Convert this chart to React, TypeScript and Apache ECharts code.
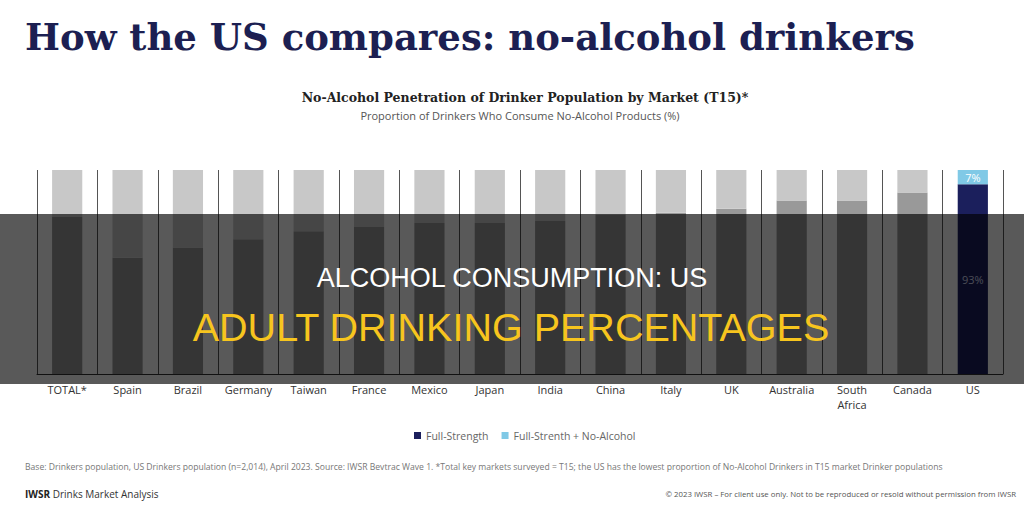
import React, { useEffect, useRef } from "react";
import * as echarts from "echarts";

// Markets surveyed, ordered by full-strength-only share
const categories = [
  "TOTAL*", "Spain", "Brazil", "Germany", "Taiwan", "France", "Mexico", "Japan",
  "India", "China", "Italy", "UK", "Australia", "South\nAfrica", "Canada", "US",
];
// Share of drinkers consuming full-strength only (%)
const fullStrength = [77, 57, 62, 66, 70, 72, 74, 74, 75, 78, 79, 81, 85, 85, 89, 93];
// Share of drinkers consuming full-strength plus no-alcohol products (%)
const noAlcohol = [23, 43, 38, 34, 30, 28, 26, 26, 25, 22, 21, 19, 15, 15, 11, 7];
const seriesNames = ["Full-Strength", "Full-Strenth + No-Alcohol"];
const highlighted = "US";

const NAVY = "#1b1f5c";
const LIGHT_BLUE = "#80c9e6";
const GREY_FULL = "#999999";
const GREY_NOALC = "#c8c8c8";

export default function App() {
  const ref = useRef<HTMLDivElement>(null);

  useEffect(() => {
    document.body.style.margin = "0";
    if (!ref.current) return;
    const chart = echarts.init(ref.current, undefined, { renderer: "svg" });

    const fullData = fullStrength.map((v, i) =>
      categories[i] === highlighted
        ? {
            value: v,
            itemStyle: { color: NAVY },
            label: {
              show: true,
              position: "inside",
              formatter: "{c}%",
              color: "#d4d8f2",
              fontSize: 11,
              fontFamily: "Open Sans",
            },
          }
        : { value: v, itemStyle: { color: GREY_FULL } }
    );
    const noAlcData = noAlcohol.map((v, i) =>
      categories[i] === highlighted
        ? {
            value: v,
            itemStyle: { color: LIGHT_BLUE },
            label: {
              show: true,
              position: "inside",
              formatter: "{c}%",
              color: "#ffffff",
              fontSize: 11,
              fontFamily: "Open Sans",
            },
          }
        : { value: v, itemStyle: { color: GREY_NOALC } }
    );

    chart.setOption({
      animation: false,
      backgroundColor: "#ffffff",
      grid: { left: 37, right: 21, top: 170, bottom: 134, containLabel: false },
      legend: {
        data: seriesNames,
        top: 425,
        left: 409,
        icon: "rect",
        itemWidth: 7,
        itemHeight: 7,
        itemGap: 13,
        textStyle: { color: "#666666", fontSize: 10.5, fontFamily: "Open Sans" },
      },
      xAxis: {
        type: "category",
        data: categories,
        axisTick: { show: false },
        axisLine: { lineStyle: { color: "#333333", width: 1 } },
        axisLabel: {
          color: "#333333",
          fontSize: 11,
          fontFamily: "Open Sans",
          margin: 8,
          lineHeight: 15,
          interval: 0,
        },
        splitLine: { show: true, lineStyle: { color: "#555555", width: 1 } },
      },
      yAxis: {
        type: "value",
        min: 0,
        max: 100,
        show: false,
        splitLine: { show: false },
      },
      series: [
        {
          name: seriesNames[0],
          type: "bar",
          stack: "total",
          barWidth: "50%",
          itemStyle: { color: NAVY },
          data: fullData,
        },
        {
          name: seriesNames[1],
          type: "bar",
          stack: "total",
          barWidth: "50%",
          itemStyle: { color: LIGHT_BLUE },
          data: noAlcData,
        },
      ],
      graphic: [
        {
          type: "text",
          left: 25,
          top: 18,
          style: {
            text: "How the US compares: no-alcohol drinkers",
            font: "bold 37px 'DejaVu Serif'",
            fill: "#1c1f52",
          },
        },
        {
          type: "text",
          x: 525,
          y: 97,
          style: {
            text: "No-Alcohol Penetration of Drinker Population by Market (T15)*",
            font: "bold 12.5px 'DejaVu Serif'",
            fill: "#222222",
            textAlign: "center",
            textVerticalAlign: "middle",
          },
        },
        {
          type: "text",
          x: 520,
          y: 115,
          style: {
            text: "Proportion of Drinkers Who Consume No-Alcohol Products (%)",
            font: "11px 'Open Sans'",
            fill: "#555555",
            textAlign: "center",
            textVerticalAlign: "middle",
          },
        },
        {
          type: "rect",
          z: 100,
          shape: { x: 0, y: 214, width: 1024, height: 170 },
          style: { fill: "rgba(0,0,0,0.65)" },
        },
        {
          type: "text",
          z: 101,
          x: 512,
          y: 278,
          style: {
            text: "ALCOHOL CONSUMPTION: US",
            font: "27px 'Liberation Sans'",
            fill: "#ffffff",
            textAlign: "center",
            textVerticalAlign: "middle",
          },
        },
        {
          type: "text",
          z: 101,
          x: 511,
          y: 327,
          style: {
            text: "ADULT DRINKING PERCENTAGES",
            font: "39.5px 'Liberation Sans'",
            fill: "#f7c51e",
            textAlign: "center",
            textVerticalAlign: "middle",
          },
        },
        {
          type: "text",
          x: 25,
          y: 467,
          style: {
            text:
              "Base: Drinkers population, US Drinkers population (n=2,014), April 2023. Source: IWSR Bevtrac Wave 1. *Total key markets surveyed = T15; the US has the lowest proportion of No-Alcohol Drinkers in T15 market Drinker populations",
            font: "8.6px 'Open Sans'",
            fill: "#777777",
            textVerticalAlign: "middle",
          },
        },
        {
          type: "text",
          x: 25,
          y: 494,
          style: {
            text: "{b|IWSR} Drinks Market Analysis",
            font: "10px 'Open Sans'",
            fill: "#333333",
            textVerticalAlign: "middle",
            rich: {
              b: { fontWeight: "bold", fontSize: 10, fontFamily: "Open Sans", fill: "#222222" },
            },
          },
        },
        {
          type: "text",
          x: 1016,
          y: 494,
          style: {
            text: "© 2023 IWSR – For client use only. Not to be reproduced or resold without permission from IWSR",
            font: "7.8px 'Open Sans'",
            fill: "#555555",
            textAlign: "right",
            textVerticalAlign: "middle",
          },
        },
      ],
    });

    return () => chart.dispose();
  }, []);

  return <div ref={ref} style={{ width: 1024, height: 508 }} />;
}
